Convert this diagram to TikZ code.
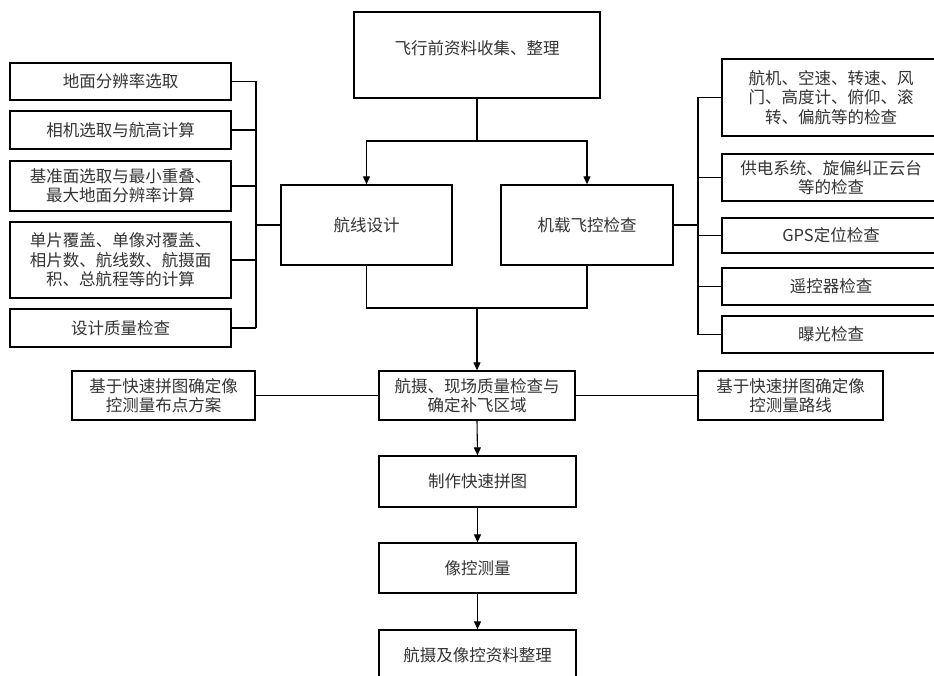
\documentclass[tikz,border=0pt]{standalone}
\usepackage{fontspec}
\setmainfont{Noto Sans CJK SC}
\usetikzlibrary{arrows.meta}
\tikzset{
  box/.style={draw=black, line width=1.3pt, fill=white, align=center, inner sep=0pt,
    text=black!80, font=\fontsize{16.5}{19.5}\selectfont},
  conn/.style={draw=black, line width=1.1pt},
  arr/.style={conn, -{Triangle[width=7pt,length=8pt]}}
}
\begin{document}
\begin{tikzpicture}[x=1pt,y=-1pt]
\useasboundingbox (0,0) rectangle (934,676);
\clip (0,0) rectangle (934,676);
\fill[white] (0,0) rectangle (934,676);
% top
\node[box, minimum width=246pt, minimum height=86pt] (top) at (477,55) {};
\node[text=black!80, font=\fontsize{16.5}{19.5}\selectfont] (toptext) at (477,48) {飞行前资料收集、整理};
% middle pair
\node[box, minimum width=171pt, minimum height=80pt] (route) at (366.5,225) {航线设计};
\node[box, minimum width=172pt, minimum height=80pt] (check) at (587,225) {机载飞控检查};
% left column
\node[box, minimum width=221pt, minimum height=37pt] (l1) at (120.5,81.5) {地面分辨率选取};
\node[box, minimum width=221pt, minimum height=38pt] (l2) at (120.5,130) {相机选取与航高计算};
\node[box, minimum width=221pt, minimum height=50pt] (l3) at (120.5,186) {基准面选取与最小重叠、\\最大地面分辨率计算};
\node[box, minimum width=221pt, minimum height=76pt] (l4) at (120.5,260) {单片覆盖、单像对覆盖、\\相片数、航线数、航摄面\\积、总航程等的计算};
\node[box, minimum width=221pt, minimum height=38pt] (l5) at (120.5,328) {设计质量检查};
% right column
\node[box, minimum width=218pt, minimum height=77pt] (r1) at (831,97.5) {航机、空速、转速、风\\门、高度计、俯仰、滚\\转、偏航等的检查};
\node[box, minimum width=218pt, minimum height=47pt] (r2) at (831,177.5) {供电系统、旋偏纠正云台\\等的检查};
\node[box, minimum width=218pt, minimum height=35pt] (r3) at (831,235.5) {GPS定位检查};
\node[box, minimum width=218pt, minimum height=37pt] (r4) at (831,286.5) {遥控器检查};
\node[box, minimum width=218pt, minimum height=37pt] (r5) at (831,334.5) {曝光检查};
% flight row
\node[box, minimum width=196pt, minimum height=49pt] (field) at (477,395.5) {航摄、现场质量检查与\\确定补飞区域};
\node[box, minimum width=183pt, minimum height=49pt] (lplan) at (163.5,395.5) {基于快速拼图确定像\\控测量布点方案};
\node[box, minimum width=185pt, minimum height=49pt] (rplan) at (790.5,395.5) {基于快速拼图确定像\\控测量路线};
% bottom chain
\node[box, minimum width=197pt, minimum height=51pt] (mosaic) at (477.5,481.5) {制作快速拼图};
\node[box, minimum width=197pt, minimum height=50pt] (gcp) at (477.5,568) {像控测量};
\node[box, minimum width=197pt, minimum height=50pt] (final) at (477.5,655) {航摄及像控资料整理};
% coordinates
\coordinate (split) at (477,141);
\coordinate (merge) at (477,308);
\coordinate (lbus) at (256,225);
\coordinate (rbus) at (698,225);
% connectors top
\draw[conn] (top.south) -- (split);
\draw[arr] (split) -| (route.north);
\draw[arr] (split) -| (check.north);
\draw[conn] (route.south) |- (merge);
\draw[conn] (check.south) |- (merge);
\draw[arr] (merge) -- (field.north);
% left bus
\draw[conn] (l1.east -| lbus) -- (l5.east -| lbus);
\foreach \n in {l1,l2,l3,l4,l5} \draw[conn] (\n.east) -- (\n.east -| lbus);
\draw[conn] (lbus) -- (route.west);
% right bus
\draw[conn] (r1.west -| rbus) -- (r5.west -| rbus);
\foreach \n in {r1,r2,r3,r4,r5} \draw[conn] (\n.west) -- (\n.west -| rbus);
\draw[conn] (check.east) -- (rbus);
% flight row
\draw[conn] (lplan.east) -- (field.west);
\draw[conn] (field.east) -- (rplan.west);
\draw[arr] (field.south) -- (mosaic.north);
\draw[arr] (mosaic.south) -- (gcp.north);
\draw[arr] (gcp.south) -- (final.north);
\end{tikzpicture}
\end{document}
